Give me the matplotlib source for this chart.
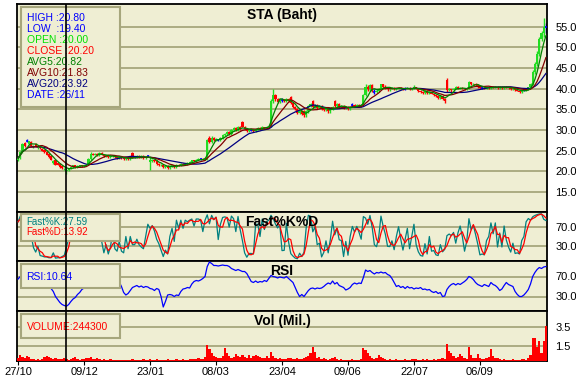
import matplotlib
matplotlib.use('Agg')
import matplotlib.pyplot as plt
from matplotlib.patches import Rectangle
import numpy as np
import pandas as pd

plt.rcParams['font.family'] = ['Liberation Sans', 'DejaVu Sans']

# daily prices, 27/10 .. mid Oct (baht)
opens = [
    22.6, 23.2, 24.6, 26.8, 27.4, 26.6, 27.0, 25.8, 26.6, 25.6,
    26.0, 25.4, 25.2, 24.6, 24.2, 23.6, 22.0, 22.6, 22.0, 21.8,
    21.2, 20.4, 20.0, 20.2, 20.6, 21.0, 21.4, 21.0, 21.2, 21.5,
    21.2, 21.4, 21.6, 23.0, 24.2, 24.0, 24.2, 23.8, 24.4, 24.0,
    23.6, 23.8, 23.4, 23.6, 23.8, 23.4, 23.2, 23.4, 23.2, 23.0,
    23.2, 23.0, 24.4, 23.4, 23.4, 23.6, 23.4, 23.6, 23.2, 23.6,
    22.2, 22.4, 22.8, 22.4, 21.8, 21.4, 21.6, 21.0, 21.2, 20.8,
    21.2, 21.4, 21.0, 21.6, 21.4, 21.8, 21.6, 21.8, 22.0, 22.2,
    22.6, 22.4, 22.8, 23.0, 23.0, 22.8, 22.8, 28.0, 27.0, 28.0,
    27.5, 27.5, 27.5, 28.0, 28.8, 29.0, 29.5, 29.0, 30.0, 30.5,
    30.0, 30.8, 32.0, 30.8, 30.2, 29.8, 30.0, 30.0, 29.8, 30.2,
    30.5, 30.2, 30.8, 30.5, 30.8, 31.0, 37.0, 38.5, 37.5, 36.8,
    37.2, 37.4, 37.0, 37.5, 38.0, 36.5, 35.5, 35.0, 34.0, 34.5,
    34.5, 33.5, 34.5, 35.8, 37.0, 35.5, 36.0, 35.2, 35.8, 35.0,
    34.8, 35.2, 34.5, 35.0, 37.0, 35.8, 36.2, 35.5, 35.8, 35.2,
    35.6, 35.0, 36.0, 36.0, 35.8, 36.0, 35.8, 36.0, 38.5, 40.5,
    39.8, 40.8, 39.2, 39.2, 39.5, 40.0, 41.0, 40.5, 40.2, 39.8,
    40.0, 40.2, 39.8, 40.0, 40.2, 40.0, 40.0, 40.0, 40.2, 39.8,
    40.0, 40.3, 40.0, 39.5, 39.2, 39.0, 39.4, 39.0, 39.2, 38.8,
    38.5, 38.2, 37.8, 38.2, 37.5, 42.0, 39.6, 39.8, 39.6, 40.0,
    40.4, 40.0, 40.2, 40.0, 39.8, 40.0, 41.5, 41.0, 41.2, 40.8,
    40.5, 40.2, 40.2, 40.0, 40.3, 40.2, 40.5, 40.3, 40.5, 40.2,
    40.4, 40.2, 40.5, 40.3, 40.2, 39.8, 40.0, 39.6, 39.5, 39.2,
    39.6, 39.6, 39.8, 40.3, 41.0, 44.0, 46.0, 48.5, 52.0, 53.5, 55.0,
]
highs = [
    23.4, 24.8, 26.8, 27.0, 27.8, 27.4, 27.2, 26.4, 26.8, 26.2,
    26.2, 25.6, 25.4, 24.8, 24.4, 23.8, 22.6, 22.8, 22.2, 22.0,
    21.4, 20.8, 20.8, 20.8, 21.2, 21.6, 21.6, 21.4, 21.6, 21.6,
    21.6, 21.8, 23.2, 24.6, 24.4, 24.4, 24.4, 24.6, 24.6, 24.2,
    24.0, 24.0, 23.8, 24.0, 24.0, 23.6, 23.6, 23.6, 23.4, 23.4,
    23.4, 23.4, 24.6, 23.6, 23.8, 23.8, 23.8, 23.8, 23.6, 23.8,
    23.6, 23.0, 23.0, 22.6, 22.0, 21.8, 21.8, 21.4, 21.4, 21.4,
    21.6, 21.6, 21.8, 21.8, 22.0, 22.0, 22.0, 22.2, 22.4, 22.8,
    22.8, 23.0, 23.2, 23.2, 23.2, 23.4, 27.8, 28.4, 28.4, 28.2,
    28.0, 27.8, 28.2, 29.0, 29.2, 29.8, 29.8, 30.2, 30.8, 30.8,
    31.0, 31.0, 32.2, 31.0, 30.4, 30.2, 30.2, 30.2, 30.4, 30.8,
    30.8, 31.0, 30.8, 31.0, 31.2, 37.5, 39.8, 38.8, 37.8, 37.8,
    37.8, 37.6, 37.8, 37.8, 38.2, 36.8, 35.8, 35.2, 34.8, 34.8,
    34.8, 34.8, 36.0, 36.5, 37.2, 36.2, 36.2, 36.0, 36.0, 35.2,
    35.4, 35.4, 35.2, 35.8, 37.2, 36.5, 36.5, 36.0, 36.0, 35.8,
    35.8, 35.6, 36.5, 36.2, 36.2, 36.2, 36.2, 38.8, 41.2, 40.8,
    41.2, 41.0, 39.8, 39.8, 40.2, 41.2, 41.2, 40.8, 40.5, 40.2,
    40.5, 40.4, 40.2, 40.5, 40.4, 40.2, 40.4, 40.4, 40.4, 40.2,
    40.8, 40.5, 40.2, 39.6, 39.4, 39.6, 39.6, 39.4, 39.4, 38.8,
    38.6, 38.4, 38.4, 38.4, 37.8, 42.5, 40.2, 40.0, 40.2, 40.6,
    40.6, 40.4, 40.4, 40.2, 40.2, 41.8, 41.6, 41.4, 41.4, 41.0,
    40.6, 40.4, 40.4, 40.5, 40.5, 40.7, 40.7, 40.7, 40.7, 40.6,
    40.6, 40.7, 40.7, 40.5, 40.4, 40.2, 40.2, 39.8, 39.7, 39.7,
    39.8, 40.0, 40.5, 41.4, 44.5, 46.5, 49.0, 52.5, 54.0, 57.0, 56.0,
]
lows = [
    22.4, 23.0, 24.4, 25.8, 27.0, 26.4, 26.0, 25.6, 25.8, 25.4,
    25.4, 24.8, 24.4, 23.8, 23.2, 22.6, 21.8, 21.4, 21.4, 20.8,
    20.6, 20.2, 19.4, 20.0, 20.4, 20.8, 20.8, 20.8, 21.0, 21.0,
    21.0, 21.2, 21.4, 22.8, 23.8, 23.8, 23.6, 23.6, 23.8, 23.4,
    23.4, 23.2, 23.2, 23.4, 23.2, 23.0, 23.0, 23.0, 22.8, 22.8,
    22.8, 22.8, 23.2, 23.2, 23.2, 23.2, 23.2, 23.0, 23.0, 23.4,
    20.2, 22.2, 22.2, 21.6, 21.2, 21.2, 20.8, 20.8, 20.6, 20.6,
    21.0, 20.8, 20.8, 21.2, 21.2, 21.4, 21.4, 21.6, 21.8, 22.0,
    22.2, 22.2, 22.6, 22.8, 22.6, 22.6, 22.6, 26.8, 26.8, 27.2,
    27.2, 27.2, 27.2, 27.8, 28.6, 28.8, 28.8, 28.8, 29.8, 29.8,
    29.8, 30.0, 30.6, 30.0, 29.6, 29.6, 29.8, 29.6, 29.6, 30.0,
    30.0, 30.0, 30.2, 30.4, 30.6, 30.8, 36.5, 37.0, 36.5, 36.5,
    36.8, 36.8, 36.8, 36.8, 36.2, 35.2, 34.8, 33.8, 33.8, 33.5,
    33.0, 33.2, 34.2, 35.5, 35.2, 35.2, 35.0, 35.0, 34.8, 34.5,
    34.5, 34.2, 34.2, 34.8, 35.5, 35.5, 35.2, 35.2, 35.0, 35.0,
    34.8, 34.8, 35.6, 35.6, 35.6, 35.6, 35.6, 35.8, 38.2, 39.5,
    39.5, 39.2, 38.8, 39.0, 39.2, 39.8, 40.2, 40.0, 39.5, 39.5,
    39.8, 39.6, 39.6, 39.8, 39.8, 39.6, 39.6, 39.8, 39.6, 39.6,
    39.8, 39.8, 39.2, 39.0, 38.8, 38.8, 38.8, 38.8, 38.6, 38.2,
    38.0, 37.6, 37.6, 37.2, 36.5, 39.2, 39.4, 39.2, 39.4, 39.8,
    39.8, 39.8, 39.8, 39.6, 39.6, 39.8, 40.8, 40.8, 40.6, 40.2,
    40.0, 40.0, 39.8, 39.8, 40.0, 40.0, 40.1, 40.1, 40.0, 40.0,
    40.0, 40.0, 40.1, 40.0, 39.6, 39.6, 39.4, 39.3, 39.0, 39.0,
    39.4, 39.4, 39.6, 40.1, 40.8, 43.5, 45.5, 48.0, 51.5, 52.5, 53.5,
]
closes = [
    23.2, 24.6, 26.5, 26.0, 27.4, 27.2, 26.1, 26.2, 26.0, 26.0,
    25.6, 25.0, 24.6, 24.0, 23.4, 22.8, 22.4, 21.6, 21.6, 21.0,
    20.8, 20.5, 20.2, 20.6, 21.0, 21.4, 21.0, 21.2, 21.5, 21.2,
    21.4, 21.6, 23.0, 24.2, 24.0, 24.2, 23.8, 24.4, 24.0, 23.6,
    23.8, 23.4, 23.6, 23.8, 23.4, 23.2, 23.4, 23.2, 23.0, 23.2,
    23.0, 23.2, 23.4, 23.4, 23.6, 23.4, 23.6, 23.2, 23.4, 23.6,
    22.6, 22.8, 22.4, 21.8, 21.4, 21.6, 21.0, 21.2, 20.8, 21.2,
    21.4, 21.0, 21.6, 21.4, 21.8, 21.6, 21.8, 22.0, 22.2, 22.6,
    22.4, 22.8, 23.0, 23.0, 22.8, 23.2, 27.5, 27.0, 28.0, 27.5,
    27.8, 27.5, 28.0, 28.8, 29.0, 29.5, 29.0, 30.0, 30.5, 30.0,
    30.8, 30.2, 30.8, 30.2, 29.8, 30.0, 30.0, 29.8, 30.2, 30.5,
    30.2, 30.8, 30.5, 30.8, 31.0, 37.0, 38.5, 37.5, 36.8, 37.5,
    37.2, 37.0, 37.5, 37.0, 36.5, 35.5, 35.0, 34.0, 34.5, 33.8,
    33.5, 34.5, 35.8, 36.2, 35.5, 36.0, 35.2, 35.8, 35.0, 34.8,
    35.2, 34.5, 35.0, 35.5, 35.8, 36.2, 35.5, 35.8, 35.2, 35.6,
    35.0, 35.4, 36.0, 35.8, 36.0, 35.8, 36.0, 38.5, 40.5, 39.8,
    40.8, 39.5, 39.2, 39.5, 40.0, 41.0, 40.5, 40.2, 39.8, 40.0,
    40.2, 39.8, 40.0, 40.2, 40.0, 39.8, 40.0, 40.2, 39.8, 40.0,
    40.5, 40.0, 39.5, 39.2, 39.0, 39.4, 39.0, 39.2, 38.8, 38.5,
    38.2, 37.8, 38.2, 37.5, 37.0, 39.6, 39.8, 39.6, 40.0, 40.4,
    40.0, 40.2, 40.0, 39.8, 40.0, 41.5, 41.0, 41.2, 40.8, 40.5,
    40.2, 40.2, 40.0, 40.3, 40.2, 40.5, 40.3, 40.5, 40.2, 40.4,
    40.2, 40.5, 40.3, 40.2, 39.8, 40.0, 39.6, 39.5, 39.2, 39.5,
    39.6, 39.8, 40.3, 41.0, 44.0, 46.0, 48.5, 52.0, 53.5, 55.0, 55.0,
]
# volume, million shares
volumes = [
    0.35, 0.6, 0.45, 0.3, 0.5, 0.4, 0.25, 0.2, 0.15, 0.2,
    0.15, 0.2, 0.45, 0.5, 0.4, 0.3, 0.25, 0.3, 0.2, 0.25,
    0.2, 0.3, 0.24, 0.15, 0.2, 0.35, 0.4, 0.2, 0.15, 0.2,
    0.25, 0.3, 0.35, 0.4, 0.25, 0.2, 0.3, 0.2, 0.15, 0.2,
    0.15, 0.1, 0.2, 0.15, 0.1, 0.15, 0.1, 0.1, 0.15, 0.1,
    0.1, 0.15, 0.2, 0.1, 0.1, 0.15, 0.1, 0.2, 0.15, 0.1,
    0.25, 0.15, 0.1, 0.2, 0.15, 0.1, 0.15, 0.1, 0.2, 0.15,
    0.1, 0.15, 0.2, 0.1, 0.15, 0.2, 0.15, 0.1, 0.2, 0.25,
    0.2, 0.25, 0.3, 0.2, 0.25, 0.4, 1.65, 1.2, 0.8, 0.5,
    0.4, 0.3, 0.35, 0.5, 1.3, 0.8, 0.5, 0.3, 0.4, 0.75,
    0.5, 0.4, 0.6, 0.45, 0.3, 0.6, 0.35, 0.55, 0.65, 0.5,
    0.4, 0.3, 0.35, 0.5, 0.3, 0.9, 0.5, 0.3, 0.25, 0.3,
    0.2, 0.25, 0.2, 0.3, 0.35, 0.2, 0.25, 0.3, 0.2, 0.25,
    0.3, 0.4, 0.5, 0.8, 1.4, 0.9, 0.3, 0.4, 0.2, 0.3,
    0.2, 0.15, 0.2, 0.3, 0.45, 0.2, 0.15, 0.2, 0.1, 0.15,
    0.15, 0.1, 0.2, 0.15, 0.1, 0.15, 0.2, 1.3, 1.1, 0.8,
    0.5, 0.3, 0.25, 0.3, 0.6, 0.4, 0.3, 0.2, 0.15, 0.2,
    0.15, 0.1, 0.2, 0.15, 0.1, 0.15, 0.2, 0.1, 0.15, 0.2,
    0.25, 0.2, 0.15, 0.1, 0.2, 0.15, 0.2, 0.1, 0.15, 0.2,
    0.15, 0.2, 0.25, 0.3, 0.2, 1.75, 1.0, 0.8, 0.5, 0.3,
    0.4, 0.7, 0.5, 0.3, 0.2, 1.4, 0.6, 0.35, 0.3, 0.7,
    0.3, 0.2, 0.25, 0.3, 0.4, 1.2, 0.5, 0.35, 0.3, 0.2,
    0.15, 0.2, 0.15, 0.1, 0.15, 0.2, 0.15, 0.1, 0.15, 0.2,
    0.2, 0.15, 0.3, 0.6, 2.3, 2.3, 1.4, 2.0, 0.8, 2.0, 3.6,
]
# RSI
rsi_values = [
    65, 70, 78, 74, 80, 78, 70, 70, 66, 66,
    60, 56, 53, 50, 48, 46, 40, 30, 24, 18,
    14, 12, 10.6, 14, 20, 25, 28, 34, 38, 44,
    47, 50, 60, 68, 66, 67, 62, 66, 62, 58,
    60, 56, 58, 60, 56, 54, 59, 50, 38, 33,
    36, 42, 48, 50, 52, 49, 51, 48, 50, 49,
    46, 45, 42, 46, 44, 30, 9, 20, 33, 34,
    33, 30, 33, 32, 40, 45, 46, 48, 47, 55,
    60, 62, 61, 63, 66, 70, 90, 99, 96, 92,
    92, 91, 92, 93, 92, 92, 90, 86, 84, 82,
    84, 82, 80, 80, 76, 68, 60, 58, 61, 58,
    60, 59, 62, 60, 66, 72, 70, 69, 67, 69,
    68, 67, 70, 66, 62, 58, 48, 38, 30, 34,
    30, 36, 42, 46, 47, 45, 47, 46, 47, 50,
    54, 57, 55, 61, 55, 58, 52, 50, 48, 43,
    45, 48, 54, 57, 55, 57, 56, 68, 83, 80,
    82, 78, 75, 78, 77, 79, 77, 78, 74, 72,
    66, 58, 50, 52, 48, 50, 46, 50, 47, 48,
    45, 47, 46, 48, 44, 45, 43, 44, 40, 38,
    40, 36, 38, 30, 31, 44, 50, 54, 56, 53,
    56, 54, 57, 60, 64, 70, 68, 64, 58, 54,
    52, 50, 54, 52, 50, 58, 54, 52, 48, 42,
    45, 52, 58, 54, 52, 50, 40, 34, 30, 30,
    33, 38, 44, 55, 70, 78, 84, 88, 86, 89, 90,
]
date_labels = ['27/10', '09/12', '23/01', '08/03', '23/04', '09/06', '22/07', '06/09']
cursor = 22  # bar under the crosshair (26/11)

info_main = [('HIGH :20.80', '#0000FF'), ('LOW  :19.40', '#0000FF'),
             ('OPEN :20.00', '#00E000'), ('CLOSE :20.20', '#FF0000'),
             ('AVG5:20.82', '#008000'), ('AVG10:21.83', '#800000'),
             ('AVG20:23.92', '#000080'), ('DATE :26/11', '#0000FF')]

BG = '#EFEED3'
GRID = '#A6A67C'

n = len(closes)
x = np.arange(n)
o = np.array(opens)
c = pd.Series(closes)
hi = pd.Series(highs)
lo = pd.Series(lows)

ma5 = c.rolling(5, min_periods=1).mean()
ma10 = c.rolling(10, min_periods=1).mean()
ma20 = c.rolling(20, min_periods=1).mean()

# fast stochastic
hh = hi.rolling(5, min_periods=1).max()
ll = lo.rolling(5, min_periods=1).min()
fast_k = ((c - ll) / (hh - ll) * 100).fillna(50)
fast_d = fast_k.rolling(3, min_periods=1).mean()

fig = plt.figure(figsize=(5.76, 3.8), dpi=100)
fig.patch.set_facecolor('white')

W, H = 576, 380
def panel(top, bottom):
    return fig.add_axes([17 / W, 1 - bottom / H, 530 / W, (bottom - top) / H])

ax1 = panel(4, 212)
ax2 = panel(212, 261)
ax3 = panel(261, 311)
ax4 = panel(311, 361)

def style(ax, ylim, grid, fmt):
    ax.set_facecolor(BG)
    ax.set_xlim(-0.5, n - 0.5)
    ax.set_ylim(*ylim)
    for g in grid:
        ax.axhline(g, color=GRID, lw=1.3, zorder=0)
    ax.yaxis.tick_right()
    ax.set_yticks(grid)
    ax.set_yticklabels([fmt % g for g in grid])
    ax.tick_params(axis='y', length=0, labelsize=8, pad=6)
    ax.tick_params(axis='x', length=0, labelbottom=False)
    for s in ax.spines.values():
        s.set_linewidth(1.3)
        s.set_color('black')
    ax.axvline(cursor, color='black', lw=1.2, zorder=10)

def info_box(ax, y0, y1):
    ax.add_patch(Rectangle((4 / 530, y0), 99 / 530, y1 - y0, transform=ax.transAxes,
                           facecolor=BG, edgecolor=GRID, lw=1.5, zorder=8))

# price panel
style(ax1, (10.1, 60.5), [15, 20, 25, 30, 35, 40, 45, 50, 55], '%.1f')
up = c.values > o
down = c.values < o
flat = c.values == o
cols = np.where(up, '#22DD22', np.where(down, '#FF0000', '#0000FF'))
ax1.vlines(x, lo, hi, colors=cols, lw=1.0, zorder=2)
ax1.bar(x, c.values - o, bottom=o, width=1.0, color=cols, lw=0, zorder=3,
        antialiased=False)
ax1.hlines(c.values[flat], x[flat] - 0.5, x[flat] + 0.5, colors='#0000FF', lw=1.2, zorder=3)
ax1.plot(x, ma20, color='#000080', lw=0.9, zorder=4)
ax1.plot(x, ma10, color='#800000', lw=0.9, zorder=4)
ax1.plot(x, ma5, color='#008000', lw=0.9, zorder=4)
ax1.text(0.5, 0.947, 'STA (Baht)', transform=ax1.transAxes, ha='center', va='center',
         fontsize=10, fontweight='bold', zorder=9)
info_box(ax1, 0.505, 0.986)
for k, (txt, col) in enumerate(info_main):
    ax1.text(0.018, 0.931 - k * 0.0529, txt, transform=ax1.transAxes, color=col,
             fontsize=7.5, va='center', zorder=9)

# fast stochastic panel
style(ax2, (0, 100), [30, 70], '%.1f')
ax2.plot(x, fast_k, color='#008080', lw=0.9, zorder=3)
ax2.plot(x, fast_d, color='#FF0000', lw=0.9, zorder=4)
ax2.text(0.5, 0.796, 'Fast%K%D', transform=ax2.transAxes, ha='center', va='center',
         fontsize=10, fontweight='bold', zorder=9)
info_box(ax2, 0.408, 0.959)
ax2.text(0.018, 0.80, 'Fast%K:27.59', transform=ax2.transAxes, color='#008080',
         fontsize=7, va='center', zorder=9)
ax2.text(0.018, 0.595, 'Fast%D:13.92', transform=ax2.transAxes, color='#FF0000',
         fontsize=7, va='center', zorder=9)

# rsi panel
style(ax3, (1, 101), [30, 70], '%.1f')
ax3.plot(x, rsi_values, color='#0000FF', lw=0.9, zorder=3)
ax3.text(0.5, 0.8, 'RSI', transform=ax3.transAxes, ha='center', va='center',
         fontsize=10, fontweight='bold', zorder=9)
info_box(ax3, 0.454, 0.934)
ax3.text(0.018, 0.686, 'RSI:10.64', transform=ax3.transAxes, color='#0000FF',
         fontsize=7.5, va='center', zorder=9)

# volume panel
style(ax4, (0, 5.1), [1.5, 3.5], '%.1f')
ax4.bar(x, volumes, width=1.0, color='#FF0000', lw=0, zorder=3, antialiased=False)
ax4.text(0.5, 0.8, 'Vol (Mil.)', transform=ax4.transAxes, ha='center', va='center',
         fontsize=10, fontweight='bold', zorder=9)
info_box(ax4, 0.466, 0.934)
ax4.text(0.018, 0.686, 'VOLUME:244300', transform=ax4.transAxes, color='#FF0000',
         fontsize=7.5, va='center', zorder=9)
ax4.set_xticks(np.arange(0, n, 30)[:len(date_labels)])
ax4.set_xticklabels(date_labels)
ax4.tick_params(axis='x', length=3, labelbottom=True, labelsize=8, pad=1)

fig.savefig('out.png', dpi=100, facecolor='white')
